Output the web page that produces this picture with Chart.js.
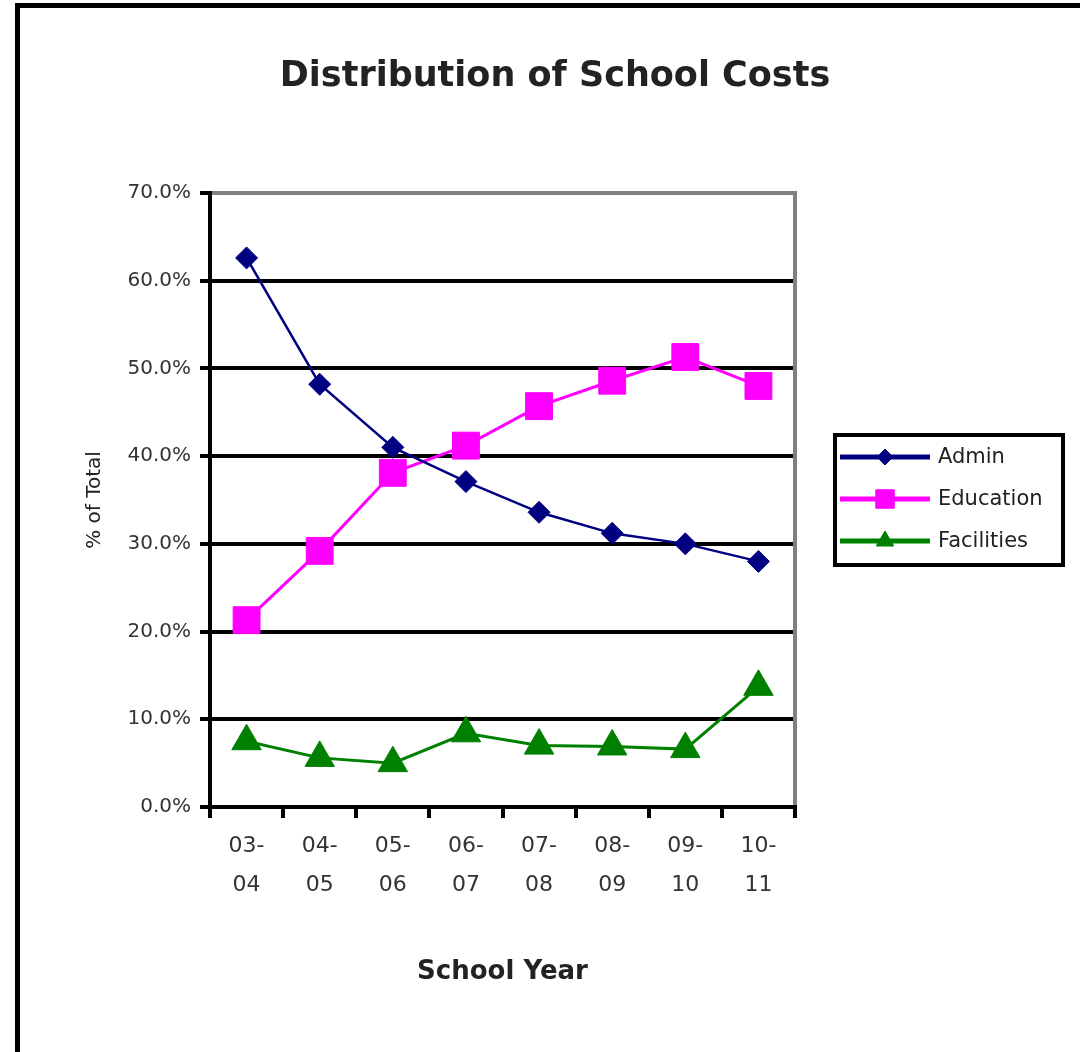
<!DOCTYPE html>
<html>
<head>
<meta charset="utf-8">
<script src="https://cdn.jsdelivr.net/npm/chart.js@4"></script>
<style>
    body { margin: 0; background: #fff; }
    #wrap { position: relative; width: 1080px; height: 1052px; overflow: hidden; }
    #frame { position: absolute; left: 15px; top: 3px; width: 1100px; height: 1100px;
             border-left: 5px solid #000; border-top: 5px solid #000; pointer-events: none; }
    canvas { position: absolute; left: 0; top: 0; }
</style>
</head>
<body>
<div id="wrap">
    <canvas id="chart" width="1080" height="1052"></canvas>
    <div id="frame"></div>
</div>
<script>
const years = [['03-', '04'], ['04-', '05'], ['05-', '06'], ['06-', '07'],
               ['07-', '08'], ['08-', '09'], ['09-', '10'], ['10-', '11']];
const admin = [62.6, 48.2, 41.0, 37.1, 33.6, 31.2, 30.0, 28.0];
const education = [21.3, 29.2, 38.1, 41.2, 45.7, 48.6, 51.3, 48.0];
const facilities = [7.5, 5.6, 5.0, 8.4, 7.0, 6.9, 6.6, 13.7];

Chart.defaults.font.family = 'DejaVu Sans';

// Legende mit Rahmen, Linie und Marker
const boxLegend = {
    id: 'boxLegend',
    afterDraw(chart) {
        const ctx = chart.ctx;
        ctx.save();
        ctx.lineWidth = 4;
        ctx.strokeStyle = '#000';
        ctx.strokeRect(835, 435, 228, 130);
        const sizes = [8, 13, 10];
        chart.data.datasets.forEach(function(ds, i) {
            const y = 457 + i * 42;
            ctx.strokeStyle = ds.borderColor;
            ctx.lineWidth = 5;
            ctx.beginPath();
            ctx.moveTo(840, y);
            ctx.lineTo(930, y);
            ctx.stroke();
            ctx.fillStyle = ds.borderColor;
            ctx.lineWidth = 1;
            Chart.helpers.drawPoint(ctx, {
                pointStyle: ds.pointStyle,
                radius: sizes[i],
                rotation: 0,
                borderWidth: 1
            }, 885, y);
            ctx.fill();
            ctx.fillStyle = '#222';
            ctx.font = '21px "DejaVu Sans"';
            ctx.textBaseline = 'middle';
            ctx.textAlign = 'left';
            ctx.fillText(ds.label, 938, y + 1);
        });
        ctx.restore();
    }
};

const chartData = {
    labels: years,
    datasets: [
        {
            label: 'Admin',
            data: admin,
            borderColor: '#000080',
            backgroundColor: '#000080',
            borderWidth: 2.5,
            pointStyle: 'rectRot',
            pointRadius: 11,
            pointBorderWidth: 1
        },
        {
            label: 'Education',
            data: education,
            borderColor: '#ff00ff',
            backgroundColor: '#ff00ff',
            borderWidth: 3,
            pointStyle: 'rect',
            pointRadius: 19,
            pointBorderWidth: 1
        },
        {
            label: 'Facilities',
            data: facilities,
            borderColor: '#008000',
            backgroundColor: '#008000',
            borderWidth: 3,
            pointStyle: 'triangle',
            pointRadius: 17,
            pointBorderWidth: 1
        }
    ]
};

const config = {
    type: 'line',
    data: chartData,
    plugins: [boxLegend],
    options: {
        responsive: false,
        animation: false,
        layout: { padding: { left: 30, top: 0, right: 0, bottom: 0 } },
        plugins: {
            legend: { display: false },
            tooltip: { enabled: false },
            title: {
                display: true,
                text: 'Distribution of School Costs',
                color: '#222',
                font: { size: 35, weight: 'bold' },
                padding: { top: 56, bottom: 95 }
            }
        },
        scales: {
            y: {
                min: 0,
                max: 70,
                afterFit: function(scale) { scale.width = 180; },
                border: { color: '#000', width: 4 },
                grid: {
                    color: function(c) { return c.tick && c.tick.value === 70 ? '#808080' : '#000'; },
                    tickColor: '#000',
                    lineWidth: 4,
                    tickLength: 10
                },
                ticks: {
                    stepSize: 10,
                    padding: 9,
                    color: '#333',
                    font: { size: 20 },
                    callback: function(v) { return v.toFixed(1) + '%'; }
                },
                title: {
                    display: true,
                    text: '% of Total',
                    color: '#222',
                    font: { size: 20 },
                    padding: { top: 53, bottom: 0 }
                }
            },
            // nur fuer den grauen rechten Rand und den Platz der Legende
            yRight: {
                position: 'right',
                min: 0,
                max: 70,
                afterFit: function(scale) { scale.width = 285; },
                border: { color: '#808080', width: 4 },
                grid: { drawOnChartArea: false, drawTicks: false },
                ticks: { display: false }
            },
            x: {
                offset: true,
                afterFit: function(scale) { scale.height = 245; },
                border: { color: '#000', width: 4 },
                grid: {
                    offset: true,
                    drawOnChartArea: false,
                    color: '#000',
                    lineWidth: 4,
                    tickLength: 11
                },
                ticks: {
                    autoSkip: false,
                    maxRotation: 0,
                    padding: 9,
                    color: '#333',
                    font: { size: 22, lineHeight: 1.78 }
                },
                title: {
                    display: true,
                    text: 'School Year',
                    color: '#222',
                    font: { size: 26, weight: 'bold' },
                    padding: { top: 0, bottom: 64 }
                }
            }
        }
    }
};

new Chart(document.getElementById('chart').getContext('2d'), config);
</script>
</body>
</html>
